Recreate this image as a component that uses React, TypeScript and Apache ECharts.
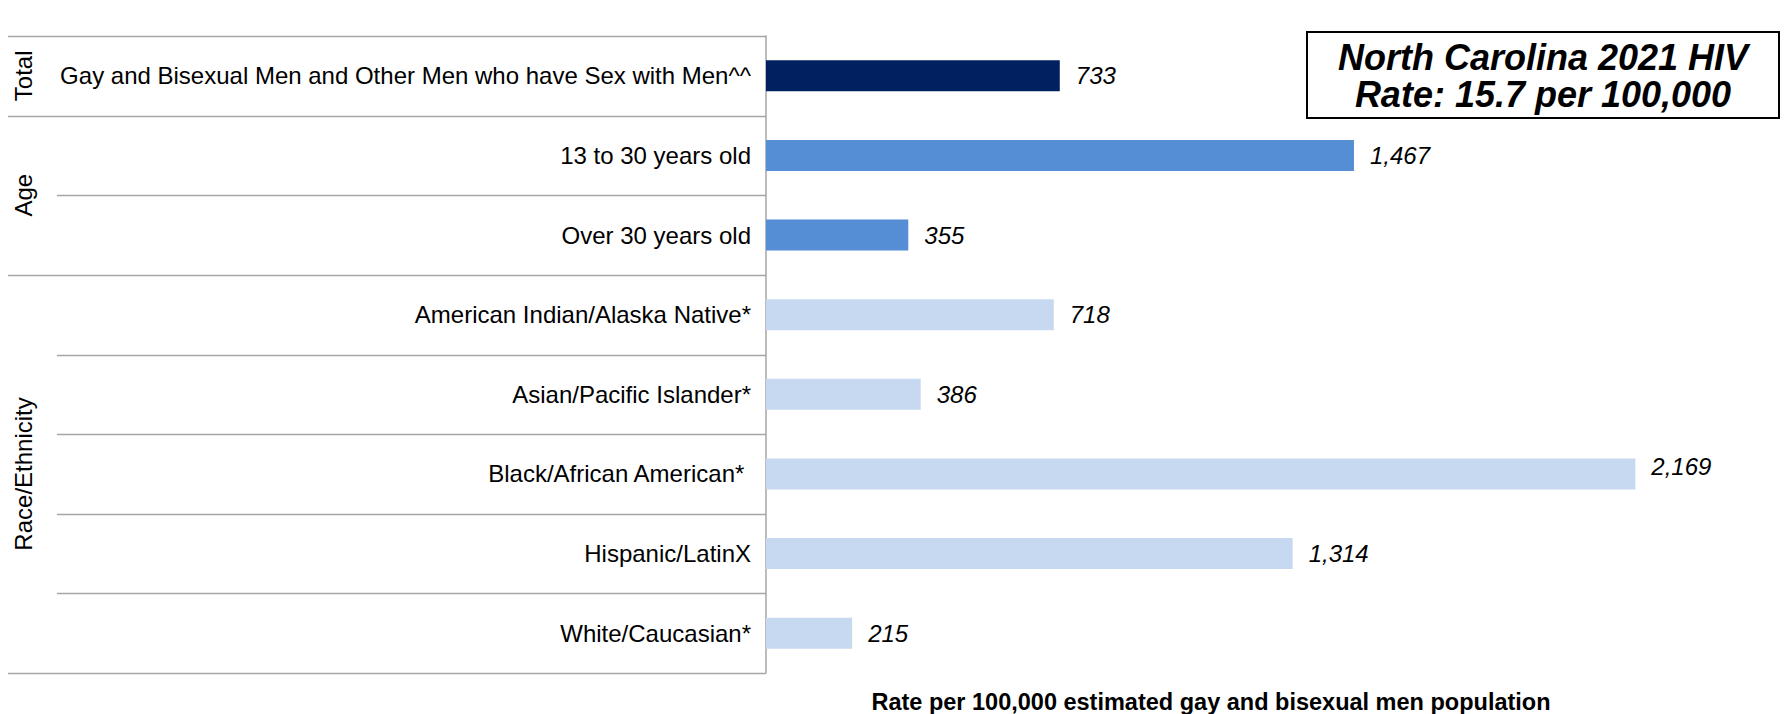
import React, { useEffect, useRef } from "react";
import * as echarts from "echarts";

const categories = [
  "Gay and Bisexual Men and Other Men who have Sex with Men^^",
  "13 to 30 years old",
  "Over 30 years old",
  "American Indian/Alaska Native*",
  "Asian/Pacific Islander*",
  "Black/African American* ",
  "Hispanic/LatinX",
  "White/Caucasian*",
];
const rates = [733, 1467, 355, 718, 386, 2169, 1314, 215];
const groupNames = ["Total", "Age", "Race/Ethnicity"];
const groupSpans = [1, 2, 5];
const groupColors = ["#002060", "#558ED5", "#C6D9F1"];
const boxLines = ["North Carolina 2021 HIV", "Rate: 15.7 per 100,000"];
const xAxisTitle = "Rate per 100,000 estimated gay and bisexual men population";
const xMax = 2500;

const W = 1785;
const H = 714;
const FONT = "'Liberation Sans', Arial, sans-serif";

export default function App() {
  const ref = useRef<HTMLDivElement>(null);
  useEffect(() => {
    if (!ref.current) return;
    const chart = echarts.init(ref.current, undefined, { renderer: "svg", width: W, height: H });
    const gridLeft = 766;
    const gridRight = 17;
    const gridTop = 36;
    const gridBottom = 41;
    const band = (H - gridTop - gridBottom) / categories.length;
    const lineColor = "#A6A6A6";

    const catColors: string[] = [];
    groupSpans.forEach((s, gi) => {
      for (let k = 0; k < s; k++) catColors.push(groupColors[gi]);
    });

    const graphics: any[] = [];
    const groupBounds = new Set<number>([0]);
    let acc = 0;
    groupSpans.forEach((s) => {
      acc += s;
      groupBounds.add(acc);
    });
    for (let i = 0; i <= categories.length; i++) {
      const y = Math.round(gridTop + i * band) + 0.5;
      const x1 = groupBounds.has(i) ? 8 : 57;
      graphics.push({
        type: "line",
        shape: { x1, y1: y, x2: gridLeft, y2: y },
        style: { stroke: lineColor, lineWidth: 1.5 },
        silent: true,
      });
    }
    let start = 0;
    groupSpans.forEach((s, gi) => {
      const cy = gridTop + (start + s / 2) * band;
      graphics.push({
        type: "text",
        x: 23.5,
        y: cy,
        rotation: Math.PI / 2,
        style: {
          text: groupNames[gi],
          fontSize: 24,
          fontFamily: FONT,
          fill: "#000",
          align: "center",
          verticalAlign: "middle",
        },
      });
      start += s;
    });
    graphics.push({
      type: "rect",
      shape: { x: 1307, y: 32, width: 472, height: 86 },
      style: { fill: "#fff", stroke: "#000", lineWidth: 2 },
    });
    boxLines.forEach((t, i) => {
      graphics.push({
        type: "text",
        x: 1543,
        y: 57 + i * 37.5,
        style: {
          text: t,
          fontSize: 36,
          fontWeight: "bold",
          fontStyle: "italic",
          fontFamily: FONT,
          fill: "#000",
          align: "center",
          verticalAlign: "middle",
        },
      });
    });
    graphics.push({
      type: "text",
      x: 1211,
      y: 702,
      style: {
        text: xAxisTitle,
        fontSize: 23.5,
        fontWeight: "bold",
        fontFamily: FONT,
        fill: "#000",
        align: "center",
        verticalAlign: "middle",
      },
    });

    chart.setOption({
      animation: false,
      backgroundColor: "#fff",
      grid: { left: gridLeft, right: gridRight, top: gridTop, bottom: gridBottom, containLabel: false },
      xAxis: {
        type: "value",
        min: 0,
        max: xMax,
        show: false,
      },
      yAxis: {
        type: "category",
        inverse: true,
        data: categories,
        axisLine: { show: true, lineStyle: { color: lineColor, width: 1.5 } },
        axisTick: { show: false },
        axisLabel: { margin: 15, fontSize: 24, color: "#000", fontFamily: FONT },
        splitLine: { show: false },
      },
      series: [
        {
          type: "bar",
          barWidth: 31,
          data: rates.map((v, i) => ({
            value: v,
            itemStyle: { color: catColors[i] },
            label: v === Math.max(...rates) ? { offset: [0, -7] } : undefined,
          })),
          label: {
            show: true,
            position: "right",
            distance: 16,
            fontSize: 24,
            fontStyle: "italic",
            fontFamily: FONT,
            color: "#000",
            formatter: (p: any) => Number(p.value).toLocaleString("en-US"),
          },
        },
      ],
      graphic: graphics,
    });
    return () => chart.dispose();
  }, []);
  return (
    <div
      ref={ref}
      style={{ position: "fixed", left: 0, top: 0, width: W, height: H, background: "#fff" }}
    />
  );
}
